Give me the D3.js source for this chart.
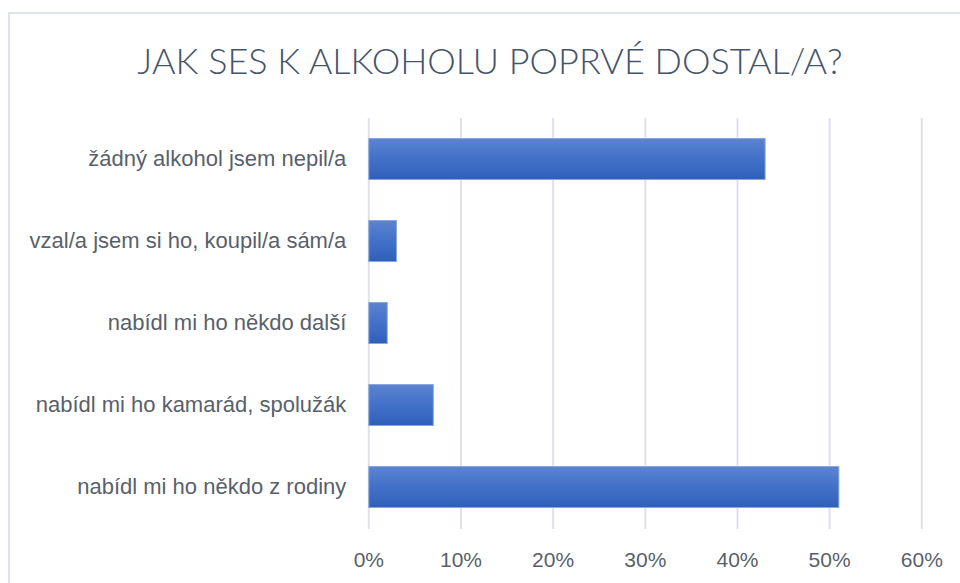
<!DOCTYPE html>
<html>
<head>
<meta charset="utf-8">
<script src="https://cdn.jsdelivr.net/npm/d3@7"></script>
<style>
  body { margin: 0; background: #fff; }
  svg { display: block; font-family: Lato, "Open Sans", sans-serif; }
</style>
</head>
<body>
<svg id="svg"></svg>
<script>
// data
let categories = [
  "žádný alkohol jsem nepil/a",
  "vzal/a jsem si ho, koupil/a sám/a",
  "nabídl mi ho někdo další",
  "nabídl mi ho kamarád, spolužák",
  "nabídl mi ho někdo z rodiny"
];
let values = [0.43, 0.03, 0.02, 0.07, 0.51];
let xTicks = [0, 0.1, 0.2, 0.3, 0.4, 0.5, 0.6];
let title = "JAK SES K ALKOHOLU POPRVÉ DOSTAL/A?";

let width = 960, height = 583;
let plot = { left: 368.3, right: 921.3, top: 118, bottom: 528 };

let svg = d3.select("#svg").attr("width", width).attr("height", height);

// chart frame
svg.append("rect")
  .attr("x", 9).attr("y", 13)
  .attr("width", 1000).attr("height", 700)
  .attr("fill", "#fff")
  .attr("stroke", "#dfe3ea")
  .attr("stroke-width", 2);

// bar gradient
let defs = svg.append("defs");
let grad = defs.append("linearGradient")
  .attr("id", "barGrad")
  .attr("x1", 0).attr("y1", 0).attr("x2", 0).attr("y2", 1);
grad.append("stop").attr("offset", "0%").attr("stop-color", "#5b84d0");
grad.append("stop").attr("offset", "50%").attr("stop-color", "#4271c8");
grad.append("stop").attr("offset", "100%").attr("stop-color", "#2f60b9");

// title
svg.append("text")
  .attr("x", 490).attr("y", 74)
  .attr("text-anchor", "middle")
  .attr("fill", "#44546a")
  .attr("font-size", 36)
  .attr("font-weight", 300)
  .text(title);

let xScale = d3.scaleLinear().domain([0, 0.6]).range([plot.left, plot.right]);
let yScale = d3.scaleBand().domain(categories).range([plot.top, plot.bottom])
  .paddingInner(0.5).paddingOuter(0.25);

// x axis with gridlines
let xAxis = svg.append("g")
  .attr("transform", `translate(0, ${plot.bottom + 1})`)
  .call(d3.axisBottom(xScale).tickValues(xTicks).tickFormat(d3.format(".0%"))
    .tickSize(-(plot.bottom + 1 - plot.top)).tickPadding(23));
xAxis.select(".domain").remove();
xAxis.selectAll("line").attr("stroke", "#dde1ea").attr("stroke-width", 2);
xAxis.selectAll("text").attr("fill", "#595f6b").attr("font-size", 21);

// y axis labels
let yAxis = svg.append("g")
  .attr("transform", `translate(${plot.left}, 0)`)
  .call(d3.axisLeft(yScale).tickSize(0).tickPadding(22));
yAxis.select(".domain").remove();
yAxis.selectAll("text").attr("fill", "#595f6b").attr("font-size", 22);

// bars
svg.append("g").selectAll("rect")
  .data(categories)
  .join("rect")
  .attr("x", xScale(0) + 0.5)
  .attr("y", d => yScale(d))
  .attr("width", (d, i) => xScale(values[i]) - xScale(0))
  .attr("height", yScale.bandwidth())
  .attr("fill", "url(#barGrad)")
  .attr("stroke", "#8aa6dc")
  .attr("stroke-width", 1);
</script>
</body>
</html>
